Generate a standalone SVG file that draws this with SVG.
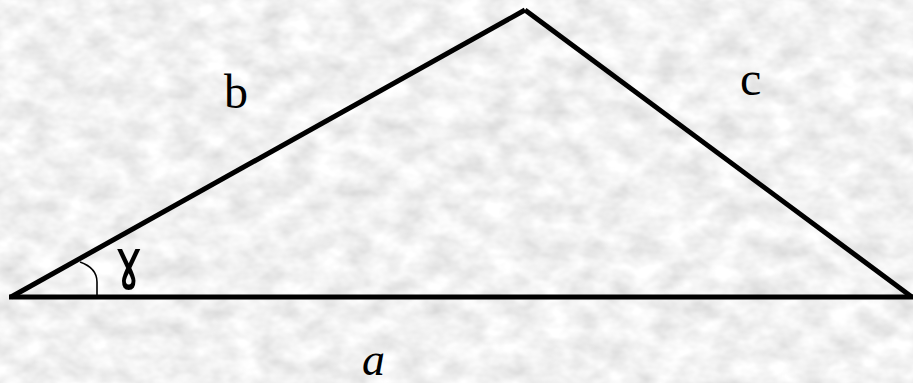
<svg xmlns="http://www.w3.org/2000/svg" width="913" height="383" viewBox="0 0 913 383">
  <defs>
    <filter id="marble" x="0" y="0" width="100%" height="100%" filterUnits="userSpaceOnUse">
      <feTurbulence type="fractalNoise" baseFrequency="0.035 0.05" numOctaves="3" seed="7" result="n"/>
      <feColorMatrix in="n" type="matrix" values="0.45 0 0 0 0.66  0.45 0 0 0 0.66  0.45 0 0 0 0.66  0 0 0 0 1"/>
    </filter>
    <style>
      .side { stroke: #000; stroke-width: 5; fill: none; stroke-linecap: butt; stroke-linejoin: miter; }
      .arc { stroke: #000; stroke-width: 1.6; fill: none; }
      .lbl { font-family: "Liberation Serif", "Times New Roman", serif; font-size: 48px; fill: #000; }
      .ital { font-style: italic; font-size: 46px; }
      .greek { font-family: "DejaVu Sans", sans-serif; font-size: 64px; fill: #000; }
    </style>
  </defs>
  <rect x="0" y="0" width="913" height="383" fill="#e6e6e6"/>
  <rect x="0" y="0" width="913" height="383" filter="url(#marble)"/>
  <g id="connectors">
    <path id="side-b" class="side" d="M 11 297 L 525 10"/>
    <path id="side-c" class="side" d="M 525 10 L 912 297"/>
    <path id="side-a" class="side" d="M 9 297 L 913 297"/>
    <path id="angle-arc" class="arc" d="M 80 262 Q 97 268 97 282 L 97 297"/>
  </g>
  <g id="label-b"><text class="lbl" x="224" y="108">b</text></g>
  <g id="label-c"><text class="lbl" x="740" y="95">c</text></g>
  <g id="label-a"><text class="lbl ital" x="362" y="375">a</text></g>
  <g id="label-gamma"><text class="greek" transform="translate(115 289) scale(0.72 1.15)" x="0" y="0">ɤ</text></g>
</svg>
